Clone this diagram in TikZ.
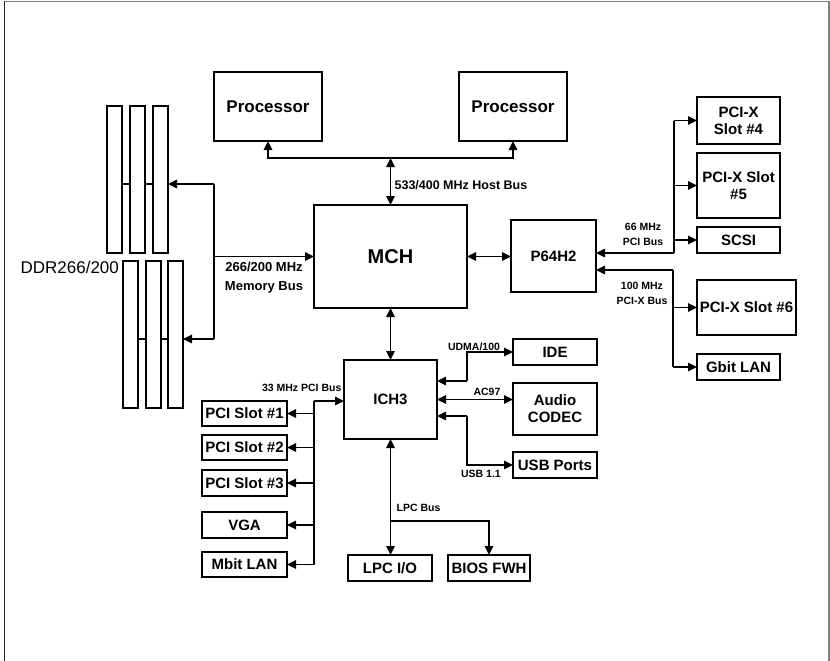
\documentclass[tikz,border=0pt]{standalone}
\usepackage{fontspec}
\setmainfont{Liberation Sans}
\usetikzlibrary{arrows.meta, positioning}

\begin{document}
\begin{tikzpicture}[x=1pt, y=-1pt, line width=1.2pt,
  box/.style={draw, inner sep=0pt, outer sep=0pt, align=center, anchor=north west, font=\bfseries\fontsize{15}{17}\selectfont},
  dimm/.style={draw, inner sep=0pt, outer sep=0pt, anchor=north west, minimum width=15pt, minimum height=147pt},
  arr/.style={-{Triangle[length=9pt,width=8.5pt]}},
  dbl/.style={{Triangle[length=9pt,width=8.5pt]}-{Triangle[length=9pt,width=8.5pt]}},
  lbl/.style={font=\bfseries\fontsize{10.5}{15}\selectfont, align=center, inner sep=0pt}]
\useasboundingbox (0,0) rectangle (830,661);
\draw[black!85] (4.5,661) -- (4.5,1.5);
\draw[gray] (4.5,1.5) -- (829,1.5) -- (829,661);

% chips
\node[box, minimum width=108pt, minimum height=69pt, font=\bfseries\fontsize{17}{19}\selectfont] (proc1) at (214,72) {Processor};
\node[box, minimum width=108pt, minimum height=69pt, font=\bfseries\fontsize{17}{19}\selectfont] (proc2) at (459,72) {Processor};
\node[box, minimum width=153pt, minimum height=103pt, font=\bfseries\fontsize{20}{22}\selectfont] (mch) at (314,205) {MCH};
\node[box, minimum width=85pt, minimum height=72pt] (p64h2) at (511,220) {P64H2};
\node[box, minimum width=93pt, minimum height=79pt] (ich3) at (344,360) {ICH3};

% P64H2 side
\node[box, minimum width=83pt, minimum height=47pt] (slot4) at (697,97) {PCI-X\\Slot \#4};
\node[box, minimum width=83pt, minimum height=65pt] (slot5) at (697,153) {PCI-X Slot\\\#5};
\node[box, minimum width=83pt, minimum height=26pt] (scsi) at (697,227) {SCSI};
\node[box, minimum width=99pt, minimum height=55pt] (slot6) at (697,280) {PCI-X Slot \#6};
\node[box, minimum width=83pt, minimum height=26pt] (gbit) at (697,354) {Gbit LAN};

% ICH3 side
\node[box, minimum width=84pt, minimum height=26pt] (ide) at (513,339) {IDE};
\node[box, minimum width=84pt, minimum height=52pt] (audio) at (513,383) {Audio\\CODEC};
\node[box, minimum width=84pt, minimum height=26pt] (usb) at (513,452) {USB Ports};
\node[box, minimum width=85pt, minimum height=25pt] (pci1) at (202,401) {PCI Slot \#1};
\node[box, minimum width=85pt, minimum height=25pt] (pci2) at (202,435) {PCI Slot \#2};
\node[box, minimum width=85pt, minimum height=26pt] (pci3) at (202,470) {PCI Slot \#3};
\node[box, minimum width=85pt, minimum height=26pt] (vga) at (202,512) {VGA};
\node[box, minimum width=85pt, minimum height=25pt] (mbit) at (202,552) {Mbit LAN};
\node[box, minimum width=84pt, minimum height=26pt] (lpcio) at (348,555) {LPC I/O};
\node[box, minimum width=82pt, minimum height=26pt] (bios) at (448,555) {BIOS FWH};

% memory
\foreach \x [count=\i] in {107,130,153} \node[dimm] (dA\i) at (\x,106) {};
\foreach \x [count=\i] in {123,146,168} \node[dimm] (dB\i) at (\x,261) {};
\node[anchor=west, inner sep=0pt, font=\fontsize{17}{19}\selectfont] (ddr) at (20,267) {DDR266/200};
\coordinate (mtop) at (214,184);
\coordinate (mbot) at (214,339);
\draw (dA1.east |- mtop) -- (dA2.west |- mtop) (dA2.east |- mtop) -- (dA3.west |- mtop);
\draw (dB1.east |- mbot) -- (dB2.west |- mbot) (dB2.east |- mbot) -- (dB3.west |- mbot);
\draw[arr] (mtop) -- (dA3.east |- mtop);
\draw[arr] (mbot) -- (dB3.east |- mbot);
\draw (mtop) -- (mbot);
\draw[arr] (mch.west -| mtop) -- (mch.west);
\node[lbl, font=\bfseries\fontsize{13}{19}\selectfont] (memlbl) at (264,278) {266/200 MHz\\Memory Bus};

% host bus
\coordinate (hb) at (390.5,158);
\draw[arr] (hb) -| (proc1.south);
\draw[arr] (hb) -| (proc2.south);
\draw[dbl] (hb) -- (mch.north);
\node[lbl, anchor=west, font=\bfseries\fontsize{12.5}{14}\selectfont] (hblbl) at (394,185) {533/400 MHz Host Bus};

% MCH links
\draw[dbl] (mch.east) -- (mch.east -| p64h2.west);
\draw[dbl] (mch.south) -- (ich3.north);

% PCI buses off P64H2
\coordinate (pb1) at (674,253);
\coordinate (pb2) at (673,270);
\draw[arr] (pb1) -- (pb1 -| p64h2.east);
\draw (pb1) -- (pb1 |- slot4);
\draw[arr] (pb1 |- slot4) -- (slot4.west);
\draw[arr] (pb1 |- slot5) -- (slot5.west);
\draw[arr] (pb1 |- scsi) -- (scsi.west);
\node[lbl] (pcilbl) at (643,234) {66 MHz\\PCI Bus};
\draw[arr] (pb2) -- (pb2 -| p64h2.east);
\draw (pb2) -- (pb2 |- gbit);
\draw[arr] (pb2 |- slot6) -- (slot6.west);
\draw[arr] (pb2 |- gbit) -- (gbit.west);
\node[lbl] (pcixlbl) at (642,293) {100 MHz\\PCI-X Bus};

% 33 MHz PCI bus
\coordinate (pcib) at (314,401);
\draw[arr] (pcib) -- (pcib -| ich3.west);
\draw (pcib) -- (pcib |- mbit);
\foreach \n in {pci1,pci2,pci3,vga,mbit} \draw[arr] (pcib |- \n) -- (\n.east);
\node[lbl, anchor=east] (pcibl) at (342,388) {33 MHz PCI Bus};

% IDE, AC97, USB
\coordinate (ib) at (467,381);
\draw[arr] (ib) -- (ib -| ich3.east);
\draw[arr] (ib) |- (ide.west);
\node[lbl] (idelbl) at (474,347) {UDMA/100};
\draw[dbl] (ich3.east) -- (ich3.east -| audio.west);
\node[lbl] (aclbl) at (487,392) {AC97};
\coordinate (ub) at (467,416);
\draw[arr] (ub) -- (ub -| ich3.east);
\draw[arr] (ub) |- (usb.west);
\node[lbl] (usblbl) at (481,474) {USB 1.1};

% LPC bus
\coordinate (lb) at (390.5,521);
\draw[arr] (lb) -- (ich3.south);
\draw[arr] (lb) -- (lb |- lpcio.north);
\draw[arr] (lb) -| (bios.north);
\node[lbl, anchor=west] (lpclbl) at (396,508) {LPC Bus};
\end{tikzpicture}
\end{document}
